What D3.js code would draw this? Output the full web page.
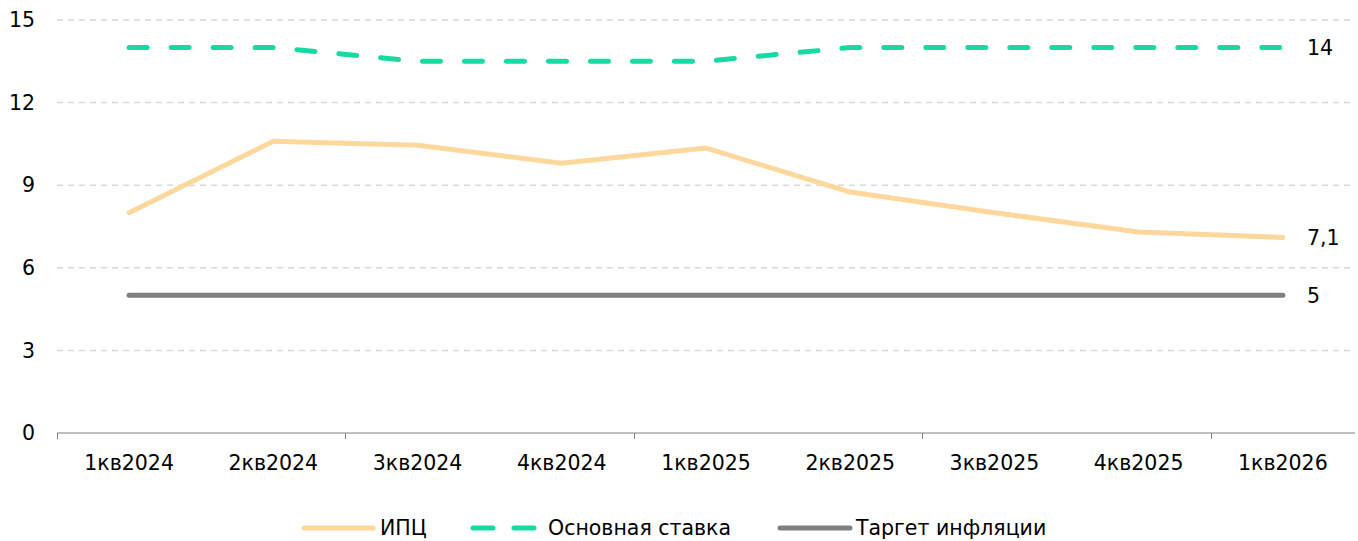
<!DOCTYPE html>
<html>
<head>
<meta charset="utf-8">
<script src="https://cdn.jsdelivr.net/npm/d3@7"></script>
<style>
  body { margin: 0; background: #fff; }
  svg text { font-family: "DejaVu Sans", Verdana, sans-serif; fill: #000; }
</style>
</head>
<body>
<div id="chart"></div>
<script>
// quarters on the x axis
var categories = ["1кв2024", "2кв2024", "3кв2024", "4кв2024", "1кв2025", "2кв2025", "3кв2025", "4кв2025", "1кв2026"];
// series values, %
var cpi = [8.0, 10.6, 10.45, 9.8, 10.35, 8.75, 8.0, 7.3, 7.1];
var keyRate = [14, 14, 13.5, 13.5, 13.5, 14, 14, 14, 14];
var target = [5, 5, 5, 5, 5, 5, 5, 5, 5];
var yTicks = [0, 3, 6, 9, 12, 15];
var endLabels = ["14", "7,1", "5"];

var width = 1358, height = 541;
var margin = {left: 57, right: 3, top: 20, bottom: 108};
var fontSize = "20.5px";

var svg = d3.select("#chart").append("svg")
  .attr("width", width)
  .attr("height", height);

var x = d3.scaleBand()
  .domain(categories)
  .range([margin.left, width - margin.right]);

var y = d3.scaleLinear()
  .domain([0, 15])
  .range([height - margin.bottom, margin.top]);

// gridlines
svg.append("g")
  .selectAll("line")
  .data(yTicks.filter(function(d) { return d > 0; }))
  .join("line")
    .attr("x1", margin.left)
    .attr("x2", width - margin.right)
    .attr("y1", function(d) { return y(d); })
    .attr("y2", function(d) { return y(d); })
    .attr("stroke", "#d9d9d9")
    .attr("stroke-width", 1.5)
    .attr("stroke-dasharray", "6,5");

// y axis labels
svg.append("g")
  .selectAll("text")
  .data(yTicks)
  .join("text")
    .attr("x", 35)
    .attr("y", function(d) { return y(d); })
    .attr("dy", "0.35em")
    .attr("text-anchor", "end")
    .style("font-size", fontSize)
    .text(function(d) { return d; });

// x axis line + ticks every second category
var x0 = y(0);
svg.append("line")
  .attr("x1", margin.left).attr("x2", width - margin.right)
  .attr("y1", x0).attr("y2", x0)
  .attr("stroke", "#808080").attr("stroke-width", 1);

svg.append("g")
  .selectAll("line")
  .data(categories.filter(function(d, i) { return i % 2 === 0; }))
  .join("line")
    .attr("x1", function(d) { return Math.round(x(d)) + 0.5; })
    .attr("x2", function(d) { return Math.round(x(d)) + 0.5; })
    .attr("y1", x0)
    .attr("y2", x0 + 6)
    .attr("stroke", "#808080");

svg.append("g")
  .selectAll("text")
  .data(categories)
  .join("text")
    .attr("x", function(d) { return x(d) + x.bandwidth() / 2; })
    .attr("y", 463)
    .attr("dy", "0.35em")
    .attr("text-anchor", "middle")
    .style("font-size", fontSize)
    .text(function(d) { return d; });

var line = d3.line()
  .x(function(d, i) { return x(categories[i]) + x.bandwidth() / 2; })
  .y(function(d) { return y(d); });

var series = [
  {name: "Таргет инфляции", values: target, color: "#808080", dash: null},
  {name: "ИПЦ", values: cpi, color: "#fdd89c", dash: null},
  {name: "Основная ставка", values: keyRate, color: "#17d9a3", dash: "18,24"}
];

series.forEach(function(s) {
  svg.append("path")
    .datum(s.values)
    .attr("fill", "none")
    .attr("stroke", s.color)
    .attr("stroke-width", 5)
    .attr("stroke-linecap", "round")
    .attr("stroke-linejoin", "round")
    .attr("stroke-dasharray", s.dash)
    .attr("d", line);
});

// end labels
var lastCat = categories[categories.length - 1];
var ends = [keyRate[keyRate.length - 1], cpi[cpi.length - 1], target[target.length - 1]];
svg.append("g")
  .selectAll("text")
  .data(ends)
  .join("text")
    .attr("x", x(lastCat) + x.bandwidth() / 2 + 24)
    .attr("y", function(d) { return y(d); })
    .attr("dy", "0.35em")
    .style("font-size", fontSize)
    .text(function(d, i) { return endLabels[i]; });

// legend
var legend = [
  {name: "ИПЦ", color: "#fdd89c", dash: null, x1: 304, x2: 373, tx: 380},
  {name: "Основная ставка", color: "#17d9a3", dash: "20,21", x1: 473, x2: 536, tx: 548},
  {name: "Таргет инфляции", color: "#808080", dash: null, x1: 780, x2: 850, tx: 856}
];
var ly = 528;
legend.forEach(function(l) {
  svg.append("line")
    .attr("x1", l.x1).attr("x2", l.x2)
    .attr("y1", ly).attr("y2", ly)
    .attr("stroke", l.color)
    .attr("stroke-width", 5)
    .attr("stroke-linecap", "round")
    .attr("stroke-dasharray", l.dash);
  svg.append("text")
    .attr("x", l.tx)
    .attr("y", ly)
    .attr("dy", "0.35em")
    .style("font-size", fontSize)
    .text(l.name);
});
</script>
</body>
</html>
